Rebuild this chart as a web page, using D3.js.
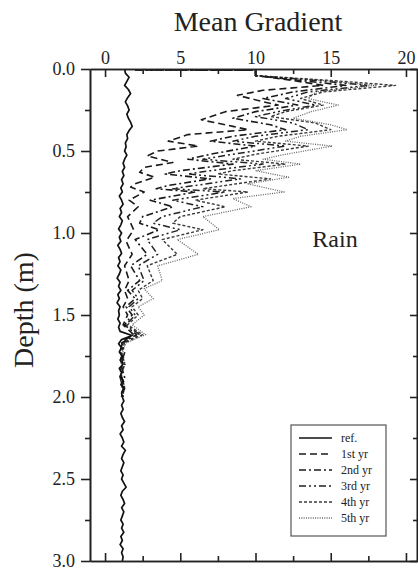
<!DOCTYPE html>
<html><head><meta charset="utf-8">
<script src="https://cdn.jsdelivr.net/npm/d3@7/dist/d3.min.js"></script>
<style>
html,body{margin:0;padding:0;background:#fff;}
svg{display:block;}
text{font-family:"Liberation Serif","Times New Roman",serif;fill:#222;}
</style></head>
<body>
<svg id="chart" width="418" height="570"></svg>
<script>
// ---- data ----
const xTicksMajor = [0, 5, 10, 15, 20];
const xTicksMinor = [2.5, 7.5, 12.5, 17.5];
const yTicksMajor = [0, 0.5, 1.0, 1.5, 2.0, 2.5, 3.0];
const yTicksMinor = [0.25, 0.75, 1.25, 1.75, 2.25, 2.75];
const seriesNames = ["ref.", "1st yr", "2nd yr", "3rd yr", "4th yr", "5th yr"];

const refDepthStep = 0.025;
const refValues = [1.3,1.35,1.6,1.45,1.3,1.55,1.7,1.5,1.35,1.5,1.6,1.45,1.55,1.7,1.8,1.6,1.45,1.5,1.35,1.4,
1.3,1.45,1.3,1.2,1.3,1.15,1.25,1.1,1.2,1.05,1.15,0.95,1.1,1.2,1.0,1.1,0.95,1.15,1.05,0.9,
1.1,0.95,1.05,0.85,1.0,1.1,0.9,1.0,0.85,1.05,0.95,0.8,1.0,0.9,1.05,0.85,0.95,0.8,1.0,0.9,
0.95,0.85,1.0,0.9,1.0,1.8,1.1,0.9,1.1,0.95,1.15,1.0,1.2,0.95,1.1,1.0,1.2,1.05,1.3,1.1,
1.15,1.25,1.1,1.2,1.05,1.15,1.3,1.1,1.2,1.0,1.15,1.25,1.1,1.35,1.2,1.1,1.25,1.15,1.05,1.2,
1.1,1.25,1.4,1.15,1.05,1.2,1.3,1.1,1.25,1.15,1.05,1.2,1.1,1.25,1.05,1.15,1.0,1.2,1.1,1.2,1.15];

const yr1 = [[0.005,2],[0.008,10],[0.04,10],[0.07,12.5],[0.1,14.5],[0.13,10.5],[0.16,8.8],[0.2,10.5],[0.22,11.5],[0.26,8.0],[0.31,6.4],[0.35,8.5],[0.37,9.5],[0.4,5.5],[0.44,4.2],[0.47,6.2],[0.5,3.5],[0.53,2.8],[0.57,4.5],[0.6,2.6],[0.63,2.3],[0.66,3.3],[0.7,2.0],[0.72,1.7],[0.75,2.6],[0.8,1.6],[0.84,2.2],[0.9,1.5],[0.98,1.9],[1.05,1.4],[1.13,1.8],[1.2,1.3],[1.29,1.6],[1.35,1.3],[1.4,1.5],[1.45,1.2],[1.5,1.5],[1.56,1.2],[1.62,1.9],[1.66,1.2],[1.72,1.0],[1.78,1.2],[1.85,1.0],[1.92,1.25],[2.0,1.1]];
const yr2 = [[0.005,2],[0.008,10],[0.04,10],[0.07,13],[0.1,16],[0.14,12.5],[0.18,10.5],[0.22,12.8],[0.26,10],[0.3,8.5],[0.34,11],[0.37,12],[0.41,8.5],[0.44,7.0],[0.47,10],[0.52,7.0],[0.55,5.5],[0.58,8.5],[0.62,5.0],[0.64,4.0],[0.67,7.0],[0.71,4.2],[0.73,3.4],[0.75,6.0],[0.8,3.0],[0.84,4.5],[0.9,2.5],[0.94,2.3],[0.98,3.6],[1.04,2.0],[1.13,2.8],[1.2,1.7],[1.29,2.3],[1.35,1.5],[1.4,2.0],[1.45,1.4],[1.5,1.8],[1.56,1.3],[1.62,2.1],[1.67,1.1],[1.73,1.3],[1.8,1.05],[1.88,1.3],[1.95,1.1],[2.0,1.2]];
const yr3 = [[0.005,2],[0.008,10],[0.04,10],[0.07,14],[0.1,17.5],[0.14,13.5],[0.18,12],[0.22,14],[0.26,11.5],[0.29,10],[0.33,12.5],[0.37,13.5],[0.41,10],[0.44,8.5],[0.47,12],[0.52,8.5],[0.55,6.5],[0.58,10.5],[0.62,7.0],[0.64,5.5],[0.67,9.0],[0.71,6.0],[0.73,4.5],[0.75,8.0],[0.8,4.5],[0.84,6.5],[0.9,3.8],[0.94,3.2],[0.98,5.0],[1.04,2.8],[1.13,3.5],[1.2,2.2],[1.29,2.6],[1.35,1.8],[1.4,2.2],[1.45,1.6],[1.5,2.0],[1.56,1.4],[1.62,2.3],[1.67,1.2],[1.74,1.0],[1.81,1.25],[1.88,1.0],[1.95,1.2],[2.0,1.1]];
const yr4 = [[0.005,2],[0.008,10],[0.04,10],[0.07,15],[0.1,19.3],[0.14,14.5],[0.18,13],[0.22,14.5],[0.26,12],[0.29,11],[0.33,14],[0.37,15],[0.41,11.5],[0.44,10],[0.47,13.5],[0.52,10],[0.55,8.5],[0.58,12],[0.62,8.5],[0.64,7.5],[0.67,11],[0.71,8],[0.73,6.5],[0.75,9.5],[0.8,6],[0.84,8],[0.9,5],[0.94,4.5],[0.98,6.5],[1.04,3.8],[1.13,4.8],[1.2,2.8],[1.29,3.2],[1.35,2.2],[1.4,2.5],[1.45,1.8],[1.5,2.2],[1.56,1.5],[1.62,2.5],[1.67,1.3],[1.73,1.1],[1.8,1.3],[1.87,1.05],[1.94,1.3],[2.0,1.15]];
const yr5 = [[0.005,2],[0.008,10],[0.04,10],[0.07,14.5],[0.1,18],[0.14,14],[0.18,13.5],[0.22,15.5],[0.26,13.7],[0.3,12.5],[0.34,15],[0.37,16.1],[0.41,13],[0.44,12],[0.47,15.1],[0.52,12],[0.55,10.5],[0.58,13],[0.62,10],[0.66,12.2],[0.7,9.5],[0.75,11.9],[0.79,8.5],[0.84,9.7],[0.9,6.5],[0.98,7.6],[1.04,4.8],[1.13,6.2],[1.2,3.5],[1.29,3.8],[1.34,2.6],[1.4,3.2],[1.45,2.2],[1.5,2.6],[1.56,1.8],[1.62,2.7],[1.67,1.4],[1.73,1.15],[1.8,1.35],[1.86,1.1],[1.93,1.3],[2.0,1.2]];

// ---- styles ----
const FONT = "Liberation Serif, Times New Roman, serif";
const styles = [
  {dash:null, color:"#111", w:1.7},
  {dash:"7,4", color:"#1a1a1a", w:1.6},
  {dash:"7,3,2,3", color:"#1a1a1a", w:1.6},
  {dash:"7,3,2,3,2,3", color:"#222", w:1.5},
  {dash:"3,2", color:"#3a3a3a", w:1.4},
  {dash:"1,1.3", color:"#666", w:1.3}
];

const svg = d3.select("#chart");
const x = d3.scaleLinear().domain([-1, 20.8]).range([90, 418]);
const y = d3.scaleLinear().domain([0, 3]).range([69, 561]);

const refData = refValues.map((v,i)=>[i*refDepthStep, v]);
const allSeries = [refData, yr1, yr2, yr3, yr4, yr5];

const line = d3.line().x(d=>x(d[1])).y(d=>y(d[0]));

const plot = svg.append("g");
[5,4,3,2,1,0].forEach(i=>{
  plot.append("path").datum(allSeries[i])
    .attr("d", line).attr("fill","none")
    .attr("stroke", styles[i].color).attr("stroke-width", styles[i].w)
    .attr("stroke-dasharray", styles[i].dash)
    .attr("stroke-linejoin","round");
});

// ---- axes ----
function styleAxis(g){
  g.attr("font-family", FONT);
  g.select(".domain").attr("stroke","#222").attr("stroke-width",1.6);
  g.selectAll(".tick line").attr("stroke","#222").attr("stroke-width",1.6);
  g.selectAll("text").attr("font-family",FONT).attr("font-size",18).attr("fill","#222");
}
const gTop = svg.append("g").attr("transform","translate(0,69)")
  .call(d3.axisTop(x).tickValues(xTicksMajor).tickSizeInner(-8).tickSizeOuter(0).tickPadding(5).tickFormat(d3.format("d")));
styleAxis(gTop);
const gTopMinor = svg.append("g").attr("transform","translate(0,69)")
  .call(d3.axisTop(x).tickValues(xTicksMinor).tickSizeInner(-5).tickSizeOuter(0).tickFormat(""));
styleAxis(gTopMinor);

const gBottom = svg.append("g").attr("transform","translate(0,561)")
  .call(d3.axisBottom(x).tickValues(xTicksMajor).tickSizeInner(-8).tickSizeOuter(0).tickFormat(""));
styleAxis(gBottom);
const gBottomMinor = svg.append("g").attr("transform","translate(0,561)")
  .call(d3.axisBottom(x).tickValues(xTicksMinor).tickSizeInner(-5).tickSizeOuter(0).tickFormat(""));
styleAxis(gBottomMinor);

const gLeft = svg.append("g").attr("transform","translate(90,0)")
  .call(d3.axisLeft(y).tickValues(yTicksMajor).tickSizeInner(9).tickSizeOuter(0).tickPadding(6).tickFormat(d3.format(".1f")));
styleAxis(gLeft);
const gLeftMinor = svg.append("g").attr("transform","translate(90,0)")
  .call(d3.axisLeft(y).tickValues(yTicksMinor).tickSizeInner(5).tickSizeOuter(0).tickFormat(""));
styleAxis(gLeftMinor);

const gRight = svg.append("g").attr("transform","translate(417,0)")
  .call(d3.axisRight(y).tickValues(yTicksMajor).tickSizeInner(-7).tickSizeOuter(0).tickFormat(""));
styleAxis(gRight);
const gRightMinor = svg.append("g").attr("transform","translate(417,0)")
  .call(d3.axisRight(y).tickValues(yTicksMinor).tickSizeInner(-4).tickSizeOuter(0).tickFormat(""));
styleAxis(gRightMinor);

// ---- titles ----
svg.append("text").attr("x",258).attr("y",31).attr("text-anchor","middle")
  .attr("font-family",FONT).attr("font-size",28).attr("fill","#222").text("Mean Gradient");
svg.append("text").attr("transform","translate(33,310) rotate(-90)")
  .attr("text-anchor","middle").attr("font-family",FONT).attr("font-size",28).attr("fill","#222").text("Depth (m)");
svg.append("text").attr("x",335).attr("y",247).attr("text-anchor","middle")
  .attr("font-family",FONT).attr("font-size",24).attr("fill","#222").text("Rain");

// ---- legend ----
const lg = svg.append("g");
lg.append("rect").attr("x",291).attr("y",425).attr("width",95).attr("height",111)
  .attr("fill","#fff").attr("stroke","#555").attr("stroke-width",1.2);
seriesNames.forEach((n,i)=>{
  const yy = 438 + i*16;
  lg.append("line").attr("x1",299).attr("x2",332).attr("y1",yy).attr("y2",yy)
    .attr("stroke",styles[i].color).attr("stroke-width",styles[i].w)
    .attr("stroke-dasharray",styles[i].dash);
  lg.append("text").attr("x",341).attr("y",yy+4).attr("font-family",FONT)
    .attr("font-size",12).attr("fill","#222").text(n);
});
</script>
</body></html>
